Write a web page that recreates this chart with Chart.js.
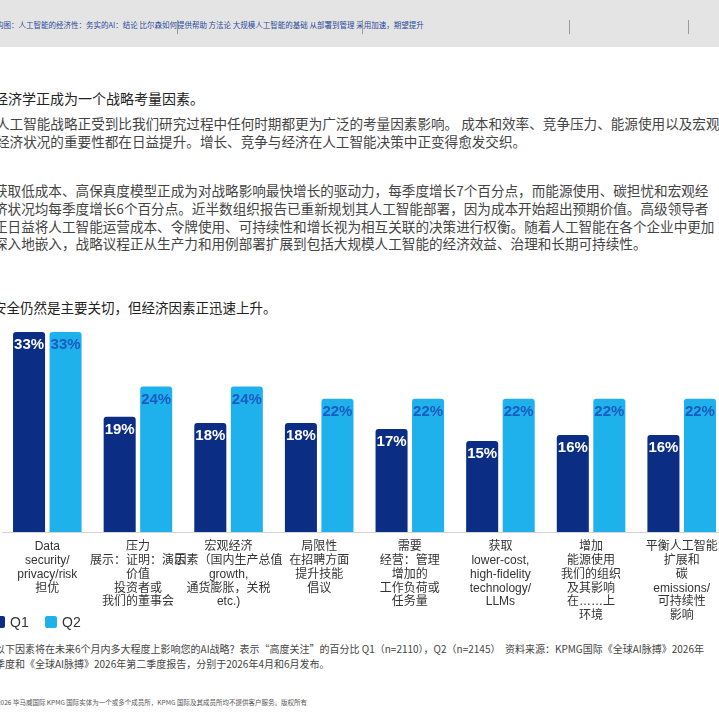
<!DOCTYPE html>
<html>
<head>
<meta charset="utf-8">
<script src="https://cdn.jsdelivr.net/npm/chart.js@4.4.1/dist/chart.umd.min.js"></script>
<style>
  html, body { margin: 0; padding: 0; background: #fff; }
  body { width: 719px; height: 720px; overflow: hidden; position: relative;
         font-family: "Noto Sans CJK SC", "Noto Sans", sans-serif; }
  .t { position: absolute; white-space: nowrap; }
  #header { position: absolute; left: 0; top: 0; width: 719px; height: 47px; background: #e4e4e4; }
  #header .nav { position: absolute; left: -4px; top: 19px; font-size: 7.5px; color: #2c4a9a; white-space: nowrap; }
  #header .sep { position: absolute; top: 20px; width: 1px; height: 14px; background: #9a9a9a; }
  .h { font-size: 14px; color: #222; }
  .p { font-size: 13.6px; color: #444; }
  .fn { font-size: 10px; color: #444; white-space: pre; }
  #chartBox { position: absolute; left: -23px; top: 318px; width: 750px; height: 310px; }
  #legend { position: absolute; left: -7px; top: 615px; height: 14px; z-index: 2; }
  #legend .item { position: absolute; top: 0; white-space: nowrap;
                  font-family: "Liberation Sans", sans-serif; font-size: 14px; color: #333; line-height: 14px; }
  #legend .box { display: inline-block; width: 12px; height: 12px; border-radius: 2px;
                 vertical-align: top; margin-top: 1px; margin-right: 5px; }
</style>
</head>
<body>
<div id="header">
  <div class="nav">构图：人工智能的经济性：务实的AI：结论 比尔森如何提供帮助 方法论 大规模人工智能的基础 从部署到管理 采用加速，期望提升</div>
  <div class="sep" style="left:177px"></div>
  <div class="sep" style="left:362px"></div>
  <div class="sep" style="left:569px"></div>
  <div class="sep" style="left:688px"></div>
</div>

<div class="t h" style="left:-6px; top:88px;">经济学正成为一个战略考量因素。</div>
<div class="t p" style="left:-4px; top:113px;">人工智能战略正受到比我们研究过程中任何时期都更为广泛的考量因素影响。 成本和效率、竞争压力、能源使用以及宏观</div>
<div class="t p" style="left:-4px; top:131px;">经济状况的重要性都在日益提升。增长、竞争与经济在人工智能决策中正变得愈发交织。</div>

<div class="t p" style="left:-6px; top:180px;">获取低成本、高保真度模型正成为对战略影响最快增长的驱动力，每季度增长7个百分点，而能源使用、碳担忧和宏观经</div>
<div class="t p" style="left:-6px; top:198px;">济状况均每季度增长6个百分点。近半数组织报告已重新规划其人工智能部署，因为成本开始超出预期价值。高级领导者</div>
<div class="t p" style="left:-6px; top:216px;">正日益将人工智能运营成本、令牌使用、可持续性和增长视为相互关联的决策进行权衡。随着人工智能在各个企业中更加</div>
<div class="t p" style="left:-6px; top:233px;">深入地嵌入，战略议程正从生产力和用例部署扩展到包括大规模人工智能的经济效益、治理和长期可持续性。</div>

<div class="t h" style="left:-7px; top:297px; font-size:13.5px;">安全仍然是主要关切，但经济因素正迅速上升。</div>

<div id="chartBox"><canvas id="barChart"></canvas></div>
<div id="legend"></div>

<div class="t fn" style="left:-5px; top:641px;">以下因素将在未来6个月内多大程度上影响您的AI战略？表示“高度关注”的百分比 Q1（n=2110），Q2（n=2145）  资料来源：KPMG国际《全球AI脉搏》2026年</div>
<div class="t fn" style="left:-5px; top:656px;">季度和《全球AI脉搏》2026年第二季度报告，分别于2026年4月和6月发布。</div>
<div class="t" style="left:-3px; top:697px; font-size:6.5px; color:#555;">2026 毕马威国际 KPMG 国际实体为一个或多个成员所，KPMG 国际及其成员所均不提供客户服务。版权所有</div>

<script>
// categories (multi-line tick labels)
var categories = [
    ["Data", "security/", "privacy/risk", "担优"],
    ["压力", "展示：证明：演示", "价值", "投资者或", "我们的董事会"],
    ["宏观经济", "因素（国内生产总值", "growth,", "通货膨胀，关税", "etc.)"],
    ["局限性", "在招聘方面", "提升技能", "倡议"],
    ["需要", "经营：管理", "增加的", "工作负荷或", "任务量"],
    ["获取", "lower-cost,", "high-fidelity", "technology/", "LLMs"],
    ["增加", "能源使用", "我们的组织", "及其影响", "在……上", "环境"],
    ["平衡人工智能", "扩展和", "碳", "emissions/", "可持续性", "影响"]
];
var seriesNames = ["Q1", "Q2"];
var q1Values = [33, 19, 18, 18, 17, 15, 16, 16];
var q2Values = [33, 24, 24, 22, 22, 22, 22, 22];

var q1Color = "#0b2d84";
var q2Color = "#1eb1ec";

// value labels drawn inside the top of each bar
var barLabels = {
    id: "barLabels",
    afterDatasetsDraw: function (chart) {
        var ctx = chart.ctx;
        ctx.save();
        ctx.font = "bold 15px 'Liberation Sans', Arial, sans-serif";
        ctx.textAlign = "center";
        ctx.textBaseline = "middle";
        chart.data.datasets.forEach(function (ds, i) {
            var meta = chart.getDatasetMeta(i);
            ctx.fillStyle = i === 0 ? "#ffffff" : "#1a5cc2";
            meta.data.forEach(function (bar, j) {
                ctx.fillText(ds.data[j] + "%", bar.x, bar.y + 13);
            });
        });
        ctx.restore();
    }
};

var ctx1 = document.getElementById("barChart").getContext("2d");
var chart1 = new Chart(ctx1, {
    type: "bar",
    data: {
        labels: categories,
        datasets: [
            {
                label: seriesNames[0],
                data: q1Values,
                backgroundColor: q1Color,
                borderRadius: 3,
                categoryPercentage: 0.806,
                barPercentage: 0.877,
            },
            {
                label: seriesNames[1],
                data: q2Values,
                backgroundColor: q2Color,
                borderRadius: 3,
                categoryPercentage: 0.806,
                barPercentage: 0.877,
            },
        ],
    },
    options: {
        responsive: true,
        maintainAspectRatio: false,
        animation: false,
        layout: { padding: { top: 14, left: 0, right: 0, bottom: 0 } },
        scales: {
            x: {
                grid: { display: true, color: "transparent", drawTicks: false },
                border: { display: true, color: "#d4d4d4", width: 1 },
                ticks: {
                    color: "#333",
                    padding: 8,
                    maxRotation: 0,
                    autoSkip: false,
                    font: { family: "'Liberation Sans', 'Noto Sans CJK SC', sans-serif", size: 12, lineHeight: 1.15 },
                },
                afterFit: function (scale) {
                    scale.height = 96;
                },
            },
            y: {
                min: 0,
                max: 33,
                grid: { display: false },
                border: { display: false },
                ticks: { display: false },
                afterFit: function (scale) {
                    scale.width = 25;
                },
            },
        },
        plugins: {
            legend: { display: false },
            tooltip: { enabled: false },
        },
    },
    plugins: [barLabels],
});

// legend built from the chart's own datasets
var legendEl = document.getElementById("legend");
var legendX = [0, 52];
chart1.data.datasets.forEach(function (ds, i) {
    var item = document.createElement("span");
    item.className = "item";
    item.style.left = legendX[i] + "px";
    item.innerHTML = '<span class="box" style="background:' + ds.backgroundColor + '"></span>' + ds.label;
    legendEl.appendChild(item);
});
</script>
</body>
</html>
